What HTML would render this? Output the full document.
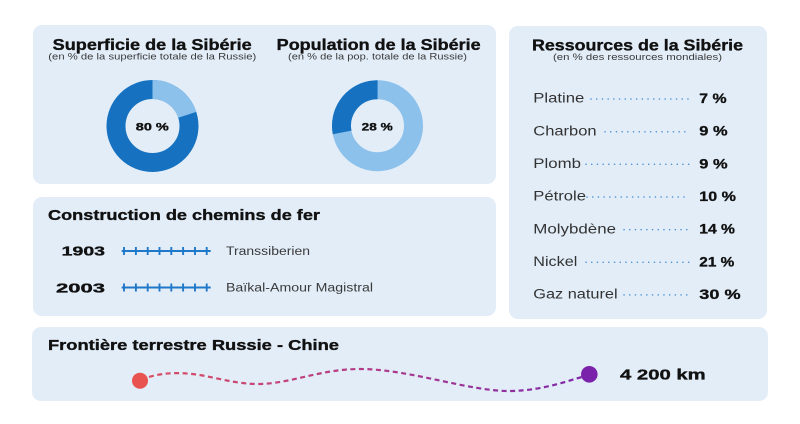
<!DOCTYPE html>
<html>
<head>
<meta charset="utf-8">
<style>
html,body{margin:0;padding:0;background:#ffffff;}
svg{display:block;}
text{font-family:"Liberation Sans",Arial,sans-serif;}
.t{font-weight:bold;fill:#111;stroke:#111;stroke-width:0.35;}
.s{fill:#3a3a3a;}
.l{fill:#333;font-size:13.5px;}
.v{font-weight:bold;fill:#111;font-size:14px;stroke:#111;stroke-width:0.3;}
</style>
</head>
<body>
<svg width="800" height="424" viewBox="0 0 800 424" xmlns="http://www.w3.org/2000/svg">
<defs>
<linearGradient id="g" gradientUnits="userSpaceOnUse" x1="140" y1="0" x2="590" y2="0">
<stop offset="0" stop-color="#dd4f62"/>
<stop offset="0.5" stop-color="#b23c88"/>
<stop offset="1" stop-color="#7c28aa"/>
</linearGradient>
</defs>
<rect x="0" y="0" width="800" height="424" fill="#ffffff"/>
<!-- panels -->
<rect x="33" y="25" width="463" height="159" rx="9" fill="#e2edf8"/>
<rect x="33" y="197" width="463" height="119" rx="9" fill="#e2edf8"/>
<rect x="509" y="26" width="258" height="293" rx="9" fill="#e2edf8"/>
<rect x="32" y="327" width="736" height="74" rx="9" fill="#e2edf8"/>

<!-- Superficie -->
<text class="t" x="152.2" y="50" font-size="15.5" text-anchor="middle" textLength="199" lengthAdjust="spacingAndGlyphs">Superficie de la Sibérie</text>
<text class="s" x="152.3" y="59.5" font-size="9.5" text-anchor="middle" textLength="208" lengthAdjust="spacingAndGlyphs">(en % de la superficie totale de la Russie)</text>
<circle cx="152.5" cy="126" r="36.5" fill="none" stroke="#1672c0" stroke-width="19"/>
<circle cx="152.5" cy="126" r="36.5" fill="none" stroke="#8cc1ec" stroke-width="19" stroke-dasharray="45.87 229.34" transform="rotate(-90 152.5 126)"/>
<text class="t" x="152.3" y="130.5" font-size="11" text-anchor="middle" textLength="33" lengthAdjust="spacingAndGlyphs">80 %</text>

<!-- Population -->
<text class="t" x="378.7" y="50" font-size="15.5" text-anchor="middle" textLength="204" lengthAdjust="spacingAndGlyphs">Population de la Sibérie</text>
<text class="s" x="377.5" y="59.5" font-size="9.5" text-anchor="middle" textLength="179" lengthAdjust="spacingAndGlyphs">(en % de la pop. totale de la Russie)</text>
<circle cx="377.5" cy="125.7" r="36" fill="none" stroke="#8cc1ec" stroke-width="19"/>
<circle cx="377.5" cy="125.7" r="36" fill="none" stroke="#1672c0" stroke-width="19" stroke-dasharray="63.33 226.2" transform="rotate(169.2 377.5 125.7)"/>
<text class="t" x="377.2" y="130.7" font-size="11" text-anchor="middle" textLength="31" lengthAdjust="spacingAndGlyphs">28 %</text>

<!-- Construction -->
<text class="t" x="48" y="220" font-size="15" textLength="272" lengthAdjust="spacingAndGlyphs">Construction de chemins de fer</text>
<text class="t" x="61.7" y="255.7" font-size="12.5" textLength="43.3" lengthAdjust="spacingAndGlyphs">1903</text>
<text class="t" x="56" y="292.3" font-size="12.5" textLength="49" lengthAdjust="spacingAndGlyphs">2003</text>
<g stroke="#1f78c8" stroke-width="1.9">
<line x1="121.7" y1="251" x2="210.7" y2="251"/>
<line x1="124" y1="247" x2="124" y2="255"/><line x1="135.9" y1="247" x2="135.9" y2="255"/><line x1="147.7" y1="247" x2="147.7" y2="255"/><line x1="159.5" y1="247" x2="159.5" y2="255"/><line x1="171.3" y1="247" x2="171.3" y2="255"/><line x1="183.1" y1="247" x2="183.1" y2="255"/><line x1="195" y1="247" x2="195" y2="255"/><line x1="206.7" y1="247" x2="206.7" y2="255"/>
<line x1="121.7" y1="287.5" x2="210.7" y2="287.5"/>
<line x1="124" y1="283.5" x2="124" y2="291.5"/><line x1="135.9" y1="283.5" x2="135.9" y2="291.5"/><line x1="147.7" y1="283.5" x2="147.7" y2="291.5"/><line x1="159.5" y1="283.5" x2="159.5" y2="291.5"/><line x1="171.3" y1="283.5" x2="171.3" y2="291.5"/><line x1="183.1" y1="283.5" x2="183.1" y2="291.5"/><line x1="195" y1="283.5" x2="195" y2="291.5"/><line x1="206.7" y1="283.5" x2="206.7" y2="291.5"/>
</g>
<text class="s" x="226" y="255" font-size="11.5" textLength="84" lengthAdjust="spacingAndGlyphs">Transsiberien</text>
<text class="s" x="226" y="291.7" font-size="11.5" textLength="147" lengthAdjust="spacingAndGlyphs">Baïkal-Amour Magistral</text>

<!-- Ressources -->
<text class="t" x="637.5" y="50.5" font-size="15.5" text-anchor="middle" textLength="211" lengthAdjust="spacingAndGlyphs">Ressources de la Sibérie</text>
<text class="s" x="637.5" y="60" font-size="9.5" text-anchor="middle" textLength="169" lengthAdjust="spacingAndGlyphs">(en % des ressources mondiales)</text>

<text class="l" x="533.3" y="102.7" textLength="51" lengthAdjust="spacingAndGlyphs">Platine</text>
<text class="l" x="533.3" y="135.4" textLength="63.3" lengthAdjust="spacingAndGlyphs">Charbon</text>
<text class="l" x="533.3" y="168" textLength="47.7" lengthAdjust="spacingAndGlyphs">Plomb</text>
<text class="l" x="533.3" y="200.7" textLength="52.7" lengthAdjust="spacingAndGlyphs">Pétrole</text>
<text class="l" x="533.3" y="233.3" textLength="82.7" lengthAdjust="spacingAndGlyphs">Molybdène</text>
<text class="l" x="533.3" y="266" textLength="44" lengthAdjust="spacingAndGlyphs">Nickel</text>
<text class="l" x="533.3" y="298.6" textLength="84.3" lengthAdjust="spacingAndGlyphs">Gaz naturel</text>

<g stroke="#4a90d2" stroke-width="1.5" stroke-linecap="round" stroke-dasharray="0.1 5.6" fill="none">
<line x1="591" y1="99" x2="689" y2="99"/>
<line x1="605" y1="131.7" x2="689" y2="131.7"/>
<line x1="586" y1="164.3" x2="689" y2="164.3"/>
<line x1="587" y1="197" x2="689" y2="197"/>
<line x1="624" y1="229.6" x2="689" y2="229.6"/>
<line x1="586" y1="262.3" x2="689" y2="262.3"/>
<line x1="624" y1="294.9" x2="689" y2="294.9"/>
</g>

<text class="v" x="699.3" y="103" textLength="27.3" lengthAdjust="spacingAndGlyphs">7 %</text>
<text class="v" x="699.3" y="135.7" textLength="28.3" lengthAdjust="spacingAndGlyphs">9 %</text>
<text class="v" x="699.3" y="168.3" textLength="28.3" lengthAdjust="spacingAndGlyphs">9 %</text>
<text class="v" x="699.3" y="201" textLength="36.7" lengthAdjust="spacingAndGlyphs">10 %</text>
<text class="v" x="699.3" y="233.6" textLength="35.7" lengthAdjust="spacingAndGlyphs">14 %</text>
<text class="v" x="699.3" y="266.3" textLength="35" lengthAdjust="spacingAndGlyphs">21 %</text>
<text class="v" x="699.3" y="298.9" textLength="41.3" lengthAdjust="spacingAndGlyphs">30 %</text>

<!-- Frontière -->
<text class="t" x="48" y="350" font-size="14.5" textLength="291" lengthAdjust="spacingAndGlyphs">Frontière terrestre Russie - Chine</text>
<path d="M149,377 C165,372 185,372 205,376 C225,380 240,384 258,384 C290,384 320,369 360,369 C410,369 470,392 512,391 C545,390 570,380 582,377" fill="none" stroke="url(#g)" stroke-width="2.2" stroke-dasharray="5 3.5"/>
<circle cx="140" cy="380.7" r="8" fill="#e8524f"/>
<circle cx="589.3" cy="374.3" r="8.3" fill="#7a22aa"/>
<text class="t" x="620" y="379.3" font-size="15" textLength="85.7" lengthAdjust="spacingAndGlyphs">4 200 km</text>
</svg>
</body>
</html>
